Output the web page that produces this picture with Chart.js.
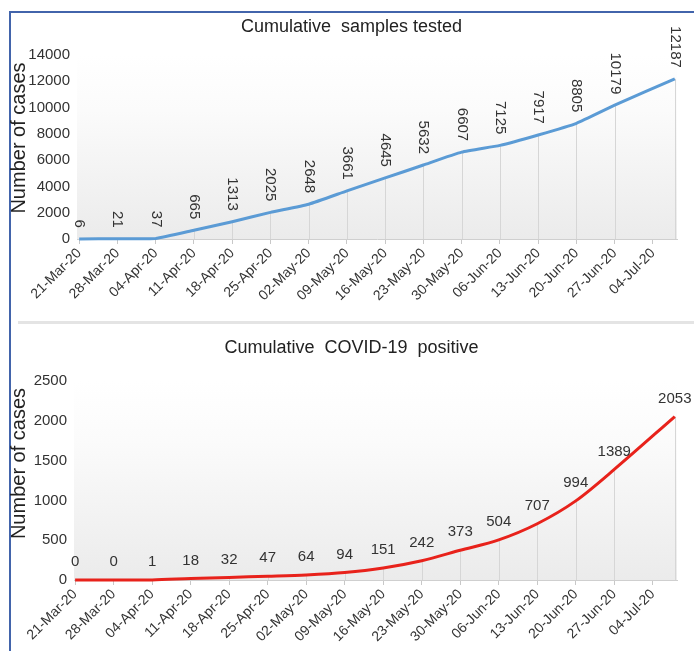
<!DOCTYPE html>
<html>
<head>
<meta charset="utf-8">
<script src="https://cdn.jsdelivr.net/npm/chart.js@4.4.1/dist/chart.umd.min.js"></script>
<style>
    body { margin: 0; background: #fff; width: 694px; height: 651px; overflow: hidden; position: relative; }
    #frame { position: absolute; left: 9px; top: 11px; right: 0; bottom: 0; border-left: 2px solid #4264ab; border-top: 2px solid #4264ab; }
    #sep { position: absolute; left: 18px; right: 0; top: 321px; height: 3px; background: #e4e4e4; }
    canvas { position: absolute; left: 0; }
    #samplesChart { top: 0; }
    #positiveChart { top: 325px; }
</style>
</head>
<body>
<div id="frame"></div>
<div id="sep"></div>
<canvas id="samplesChart" width="694" height="321"></canvas>
<canvas id="positiveChart" width="694" height="326"></canvas>
<script>
// x positions are days since 21-Mar-20
const tickDays = [0, 7, 14, 21, 28, 35, 42, 49, 56, 63, 70, 77, 84, 91, 98, 105];
const tickLabels = ['21-Mar-20', '28-Mar-20', '04-Apr-20', '11-Apr-20', '18-Apr-20', '25-Apr-20', '02-May-20', '09-May-20',
    '16-May-20', '23-May-20', '30-May-20', '06-Jun-20', '13-Jun-20', '20-Jun-20', '27-Jun-20', '04-Jul-20'];
const pointDays = [0, 7, 14, 21, 28, 35, 42, 49, 56, 63, 70, 77, 84, 91, 98, 109];
const samplesTested = [6, 21, 37, 665, 1313, 2025, 2648, 3661, 4645, 5632, 6607, 7125, 7917, 8805, 10179, 12187];
const covidPositive = [0, 0, 1, 18, 32, 47, 64, 94, 151, 242, 373, 504, 707, 994, 1389, 2053];

const FONT = '"Liberation Sans", Arial, sans-serif';
const TEXT = '#333';
const PAD_LEFT = 26;

// light grey shading of the plot area + drop lines from each point
const plotShade = {
    id: 'plotShade',
    beforeDatasetsDraw(chart) {
        const { ctx, chartArea: a } = chart;
        const g = ctx.createLinearGradient(0, a.top, 0, a.bottom);
        g.addColorStop(0, '#ffffff');
        g.addColorStop(0.3, '#fbfbfb');
        g.addColorStop(1, '#ebebeb');
        ctx.save();
        ctx.fillStyle = g;
        ctx.fillRect(a.left, a.top, a.right - a.left, a.bottom - a.top);
        ctx.strokeStyle = '#d6d6d6';
        ctx.lineWidth = 1;
        chart.getDatasetMeta(0).data.forEach(p => {
            ctx.beginPath();
            ctx.moveTo(Math.round(p.x) + 0.5, p.y);
            ctx.lineTo(Math.round(p.x) + 0.5, a.bottom);
            ctx.stroke();
        });
        ctx.restore();
    },
};

// point values and the rotated y-axis caption
const valueLabels = {
    id: 'valueLabels',
    afterDatasetsDraw(chart, args, opts) {
        const { ctx, chartArea: a } = chart;
        const values = chart.data.datasets[0].data;
        ctx.save();
        ctx.fillStyle = TEXT;
        ctx.font = '15px ' + FONT;
        chart.getDatasetMeta(0).data.forEach((p, i) => {
            const txt = String(values[i].y);
            if (opts.rotate) {
                ctx.save();
                ctx.translate(p.x, p.y - opts.gap);
                ctx.rotate(Math.PI / 2);
                ctx.textAlign = 'right';
                ctx.textBaseline = 'middle';
                ctx.fillText(txt, 0, 0);
                ctx.restore();
            } else {
                ctx.textAlign = 'center';
                ctx.textBaseline = 'middle';
                ctx.fillText(txt, p.x, p.y - opts.gap);
            }
        });

        ctx.translate(19, (a.top + a.bottom) / 2 - opts.captionShift);
        ctx.rotate(-Math.PI / 2);
        ctx.fillStyle = '#222';
        ctx.font = '20px ' + FONT;
        ctx.textAlign = 'center';
        ctx.textBaseline = 'middle';
        ctx.fillText('Number of cases', 0, 0);
        ctx.restore();
    },
};

function makeChart(id, cfg) {
    const points = pointDays.map((d, i) => ({ x: d, y: cfg.values[i] }));
    return new Chart(document.getElementById(id), {
        type: 'line',
        data: {
            datasets: [{
                data: points,
                borderColor: cfg.color,
                borderWidth: 3,
                pointRadius: 0,
                tension: cfg.tension,
                fill: false,
                clip: false,
            }],
        },
        plugins: [plotShade, valueLabels],
        options: {
            responsive: false,
            animation: false,
            layout: { padding: { left: PAD_LEFT, right: 17, top: 0, bottom: 0 } },
            plugins: {
                legend: { display: false },
                tooltip: { enabled: false },
                title: {
                    display: true,
                    text: cfg.title,
                    color: '#222',
                    font: { family: FONT, size: 18, weight: 'normal' },
                    padding: cfg.titlePad,
                },
                valueLabels: cfg.labels,
            },
            scales: {
                x: {
                    type: 'linear',
                    min: cfg.xMin,
                    max: 109.4,
                    afterBuildTicks: s => { s.ticks = tickDays.map(v => ({ value: v })); },
                    afterFit: s => { s.height = cfg.xHeight; },
                    border: { color: '#cfcfcf' },
                    grid: { drawOnChartArea: false, tickLength: 5, color: '#c8c8c8' },
                    ticks: {
                        autoSkip: false,
                        maxRotation: 45,
                        minRotation: 45,
                        padding: 1,
                        color: TEXT,
                        font: { family: FONT, size: 14 },
                        callback: v => tickLabels[tickDays.indexOf(v)],
                    },
                },
                y: {
                    min: 0,
                    max: cfg.yMax,
                    afterFit: s => { s.width = cfg.yWidth - PAD_LEFT; },
                    border: { display: false },
                    grid: { display: false, drawTicks: false },
                    ticks: {
                        stepSize: cfg.yStep,
                        padding: 7,
                        color: TEXT,
                        font: { family: FONT, size: 15 },
                        callback: v => String(v),
                    },
                },
            },
        },
    });
}

makeChart('samplesChart', {
    values: samplesTested,
    title: 'Cumulative  samples tested',
    color: '#5b9bd5',
    tension: 0.15,
    titlePad: { top: 16, bottom: 17.4 },
    labels: { rotate: true, gap: 11, captionShift: 9 },
    xMin: -0.4,
    xHeight: 82,
    yMax: 14000,
    yStep: 2000,
    yWidth: 77,
});

makeChart('positiveChart', {
    values: covidPositive,
    title: 'Cumulative  COVID-19  positive',
    color: '#e8221b',
    tension: 0.3,
    titlePad: { top: 12, bottom: 22.4 },
    labels: { rotate: false, gap: 18, captionShift: 17 },
    xMin: -0.2,
    xHeight: 71,
    yMax: 2500,
    yStep: 500,
    yWidth: 74,
});
</script>
</body>
</html>
